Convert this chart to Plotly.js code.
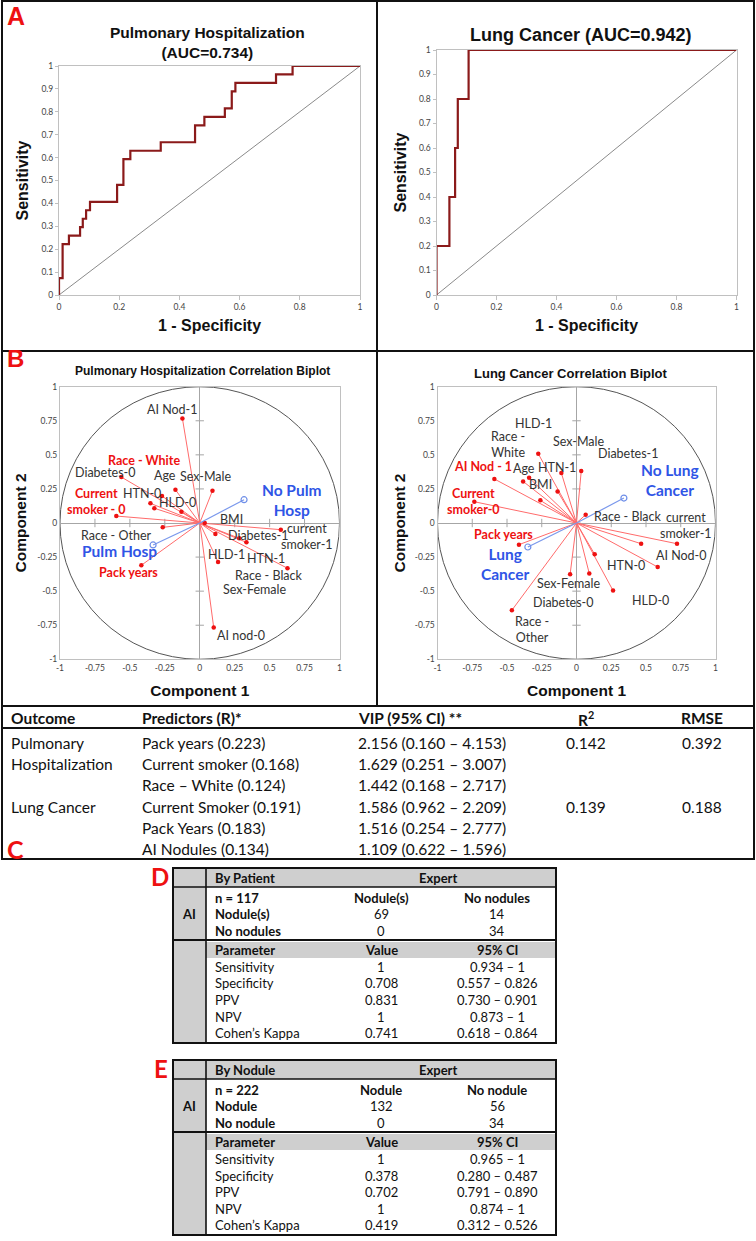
<!DOCTYPE html>
<html><head><meta charset="utf-8">
<script src="https://cdn.plot.ly/plotly-3.0.1.min.js"></script>
<style>html,body{margin:0;padding:0;background:#fff;}#chart{width:756px;height:1241px;}</style>
</head><body><div id="chart"></div>
<script>
// ---------------- DATA ----------------
// Panel A: ROC step curves (1 - specificity, sensitivity)
const pulmRocFpr = [0, 0, 0.012, 0.033, 0.070, 0.079, 0.090, 0.103, 0.193, 0.214, 0.237, 0.338, 0.452, 0.483, 0.551, 0.574, 0.586, 0.721, 0.776, 1];
const pulmRocTpr = [0, 0.074, 0.222, 0.259, 0.296, 0.333, 0.370, 0.407, 0.481, 0.593, 0.630, 0.667, 0.741, 0.778, 0.815, 0.889, 0.926, 0.963, 1, 1];
const lungRocFpr = [0, 0, 0.043, 0.062, 0.071, 0.107, 1];
const lungRocTpr = [0, 0.2, 0.4, 0.6, 0.8, 1, 1];
const chanceLine = [0, 1];
const rocXTicks = [0, 0.2, 0.4, 0.6, 0.8, 1];
const rocYTicks = [0, 0.1, 0.2, 0.3, 0.4, 0.5, 0.6, 0.7, 0.8, 0.9, 1];

// Panel B: biplot loadings (component 1, component 2)
const pulmVarNames = ['AI Nod-1','Diabetes-0','Age','Sex-Male','HTN-0','Race - White','Current smoker-0 (b)','HLD-0','Current smoker-0','Race - Other','Pack years','BMI','current smoker-1','Sex-Female','Diabetes-1','HTN-1','HLD-1','Race - Black','AI nod-0'];
const pulmVarC1 = [-0.124, -0.561, -0.174, 0.091, -0.270, -0.353, -0.325, -0.131, -0.597, -0.265, -0.418, 0.036, 0.580, 0.112, 0.282, 0.334, 0.131, 0.628, 0.100];
const pulmVarC2 = [0.767, 0.337, 0.244, 0.237, 0.198, 0.144, 0.108, 0.083, 0.051, -0.032, -0.310, 0.000, -0.049, -0.081, -0.112, -0.142, -0.286, -0.332, -0.767];
const pulmOutNames = ['No Pulm Hosp', 'Pulm Hosp'];
const pulmOutC1 = [0.317, -0.334];
const pulmOutC2 = [0.171, -0.161];

const lungVarNames = ['HLD-1','Diabetes-1','HTN-1','AI Nod - 1','Age','Race - White','BMI','Sex-Male','Current smoker-0','Race - Black','current smoker-1','HTN-1 (b)','AI Nod-0','Pack years','HTN-0','Sex-Female','Diabetes-0','HLD-0','Race - Other'];
const lungVarC1 = [-0.275, 0.034, -0.109, -0.591, -0.341, -0.384, -0.136, -0.260, -0.735, 0.066, 0.723, 0.465, 0.584, -0.414, 0.131, -0.046, 0.092, 0.263, -0.465];
const lungVarC2 = [0.508, 0.381, 0.367, 0.323, 0.332, 0.305, 0.232, 0.166, 0.156, 0.061, -0.152, -0.152, -0.323, -0.159, -0.230, -0.376, -0.371, -0.496, -0.640];
const lungOutNames = ['No Lung Cancer', 'Lung Cancer'];
const lungOutC1 = [0.341, -0.350];
const lungOutC2 = [0.183, -0.176];

const biTicks = [-1, -0.75, -0.5, -0.25, 0, 0.25, 0.5, 0.75, 1];
const biTickText = ['-1', '-0.75', '-0.5', '-0.25', '0', '0.25', '0.5', '0.75', '1'];

// Panel C table
const cHeaders = ['Outcome', 'Predictors (R)*', 'VIP (95% CI) **', 'R<sup>2</sup>', 'RMSE'];
const cOutcome = ['Pulmonary', 'Hospitalization', '', 'Lung Cancer', '', ''];
const cPredictors = ['Pack years (0.223)', 'Current smoker (0.168)', 'Race – White (0.124)', 'Current Smoker (0.191)', 'Pack Years (0.183)', 'AI Nodules (0.134)'];
const cVip = ['2.156 (0.160 – 4.153)', '1.629 (0.251 – 3.007)', '1.442 (0.168 – 2.717)', '1.586 (0.962 – 2.209)', '1.516 (0.254 – 2.777)', '1.109 (0.622 – 1.596)'];
const cR2 = ['0.142', '', '', '0.139', '', ''];
const cRmse = ['0.392', '', '', '0.188', '', ''];

// Panel D table (by patient)
const dTitle = 'By Patient', dN = 'n = 117';
const dCols = ['Nodule(s)', 'No nodules'];
const dRows = ['Nodule(s)', 'No nodules'];
const dCounts = [[69, 14], [0, 34]];
const paramNames = ['Sensitivity', 'Specificity', 'PPV', 'NPV', 'Cohen’s Kappa'];
const dValues = ['1', '0.708', '0.831', '1', '0.741'];
const dCI = ['0.934 – 1', '0.557 – 0.826', '0.730 – 0.901', '0.873 – 1', '0.618 – 0.864'];

// Panel E table (by nodule)
const eTitle = 'By Nodule', eN = 'n = 222';
const eCols = ['Nodule', 'No nodule'];
const eRows = ['Nodule', 'No nodule'];
const eCounts = [[132, 56], [0, 34]];
const eValues = ['1', '0.378', '0.702', '1', '0.419'];
const eCI = ['0.965 – 1', '0.280 – 0.487', '0.791 – 0.890', '0.874 – 1', '0.312 – 0.526'];

// ---------------- LAYOUT HELPERS ----------------
const W = 756, H = 1241;
const px = x => x / W, py = y => 1 - y / H;
const ARIAL = 'Liberation Sans, Arial, sans-serif';
const CAL = 'Lato, Carlito, Calibri, sans-serif';
const RED = '#ee1111', BLUE = '#2f55e6', DARK = '#333333';
const BOX = '#c0c0c0';

const traces = [];
const annotations = [];
const shapes = [];

// ROC traces
function rocTraces(fpr, tpr, xa, ya) {
  traces.push({x: chanceLine, y: chanceLine, xaxis: xa, yaxis: ya, mode: 'lines', line: {color: '#8a8a8a', width: 1}, hoverinfo: 'skip'});
  traces.push({x: fpr, y: tpr, xaxis: xa, yaxis: ya, mode: 'lines', line: {color: '#8b1a1a', width: 2.2, shape: 'hv'}});
}
rocTraces(pulmRocFpr, pulmRocTpr, 'x', 'y');
rocTraces(lungRocFpr, lungRocTpr, 'x2', 'y2');

// Biplot traces
function biplot(vx, vy, ox, oy, xa, ya) {
  traces.push({x: biTicks.map(() => 0), y: biTicks, xaxis: xa, yaxis: ya, mode: 'markers',
    marker: {symbol: 'line-ew', size: 6, line: {color: '#a6a6a6', width: 1}}, hoverinfo: 'skip'});
  traces.push({x: biTicks, y: biTicks.map(() => 0), xaxis: xa, yaxis: ya, mode: 'markers',
    marker: {symbol: 'line-ns', size: 6, line: {color: '#a6a6a6', width: 1}}, hoverinfo: 'skip'});
  const lx = [], ly = [];
  vx.forEach((v, i) => { lx.push(0, v, null); ly.push(0, vy[i], null); });
  traces.push({x: lx, y: ly, xaxis: xa, yaxis: ya, mode: 'lines', line: {color: '#ff6b6b', width: 1}, hoverinfo: 'skip'});
  traces.push({x: vx, y: vy, xaxis: xa, yaxis: ya, mode: 'markers', marker: {color: RED, size: 4.5}});
  const bx = [], by = [];
  ox.forEach((v, i) => { bx.push(0, v, null); by.push(0, oy[i], null); });
  traces.push({x: bx, y: by, xaxis: xa, yaxis: ya, mode: 'lines', line: {color: '#7a98ec', width: 1.2}, hoverinfo: 'skip'});
  traces.push({x: ox, y: oy, xaxis: xa, yaxis: ya, mode: 'markers', marker: {color: '#6f8fe8', size: 6, symbol: 'circle-open', line: {width: 1.2}}});
  shapes.push({type: 'circle', xref: xa, yref: ya, x0: -1, x1: 1, y0: -1, y1: 1, line: {color: '#555555', width: 1}, layer: 'below'});
}
biplot(pulmVarC1, pulmVarC2, pulmOutC1, pulmOutC2, 'x3', 'y3');
biplot(lungVarC1, lungVarC2, lungOutC1, lungOutC2, 'x4', 'y4');

// Biplot labels (positions in component space)
const pulmLabels = [
  ['AI Nod-1', -0.198, 0.836, 'k'], ['Race - White', -0.398, 0.457, 'r'], ['Diabetes-0', -0.673, 0.371, 'k'],
  ['Age', -0.251, 0.352, 'k'], ['Sex-Male', 0.043, 0.340, 'k'], ['Current<br>smoker - 0', -0.740, 0.158, 'r'],
  ['HTN-0', -0.413, 0.217, 'k'], ['HLD-0', -0.162, 0.152, 'k'], ['No Pulm<br>Hosp', 0.663, 0.170, 'b'],
  ['BMI', 0.227, 0.029, 'k'], ['current<br>smoker-1', 0.764, -0.100, 'k'], ['Race - Other', -0.597, -0.093, 'k'],
  ['Diabetes-1', 0.422, -0.093, 'k'], ['Pulm Hosp', -0.573, -0.208, 'b'], ['HLD-1', 0.191, -0.232, 'k'],
  ['HTN-1', 0.477, -0.264, 'k'], ['Pack years', -0.508, -0.364, 'r'], ['Race - Black', 0.496, -0.386, 'k'],
  ['Sex-Female', 0.389, -0.489, 'k'], ['AI nod-0', 0.298, -0.826, 'k']
];
const lungLabels = [
  ['HLD-1', -0.311, 0.733, 'k'], ['Race -<br>White', -0.494, 0.575, 'k'], ['Sex-Male', 0.015, 0.599, 'k'],
  ['Diabetes-1', 0.372, 0.508, 'k'], ['AI Nod - 1', -0.674, 0.414, 'r'], ['Age', -0.380, 0.402, 'k'],
  ['HTN-1', -0.141, 0.408, 'k'], ['BMI', -0.260, 0.279, 'k'], ['No Lung<br>Cancer', 0.674, 0.315, 'b'],
  ['Current<br>smoker-0', -0.742, 0.160, 'r'], ['Race - Black', 0.372, 0.051, 'k'], ['current<br>smoker-1', 0.791, -0.017, 'k'],
  ['Pack years', -0.523, -0.086, 'r'], ['Lung<br>Cancer', -0.517, -0.302, 'b'], ['AI Nod-0', 0.754, -0.242, 'k'],
  ['HTN-0', 0.353, -0.315, 'k'], ['Sex-Female', -0.056, -0.445, 'k'], ['HLD-0', 0.535, -0.567, 'k'],
  ['Diabetes-0', -0.097, -0.584, 'k'], ['Race -<br>Other', -0.321, -0.784, 'k']
];
function addLabels(list, xref, yref) {
  list.forEach(([t, x, y, s]) => {
    let font;
    if (s === 'r') font = {family: CAL, size: 12.5, color: RED, weight: 'bold'};
    else if (s === 'b') font = {family: CAL, size: 15.5, color: BLUE, weight: 'bold'};
    else font = {family: CAL, size: 12.5, color: DARK};
    annotations.push({text: t, x: x, y: y, xref: xref, yref: yref, showarrow: false, xanchor: 'center', yanchor: 'middle', font: font});
  });
}
addLabels(pulmLabels, 'x3', 'y3');
addLabels(lungLabels, 'x4', 'y4');

// Panel titles
function pText(t, x, y, font, xanchor) {
  annotations.push({text: t, x: px(x), y: py(y), xref: 'paper', yref: 'paper', showarrow: false,
    xanchor: xanchor || 'center', yanchor: 'middle', font: font});
}
pText('<b>Pulmonary Hospitalization<br>(AUC=0.734)</b>', 207, 42, {family: ARIAL, size: 15.5, color: '#111'});
pText('<b>Lung Cancer (AUC=0.942)</b>', 581, 35, {family: ARIAL, size: 18, color: '#111'});
pText('<b>Pulmonary Hospitalization Correlation Biplot</b>', 202, 371, {family: ARIAL, size: 12, color: '#111'});
pText('<b>Lung Cancer Correlation Biplot</b>', 571, 373, {family: ARIAL, size: 13, color: '#111'});

// Panel letters
pText('<b>A</b>', 16, 16, {family: ARIAL, size: 25, color: RED});
pText('<b>B</b>', 15, 358, {family: ARIAL, size: 24, color: RED});
pText('<b>C</b>', 15, 849, {family: CAL, size: 25, color: RED});
pText('<b>D</b>', 160, 876, {family: CAL, size: 24, color: RED});
pText('<b>E</b>', 161, 1068, {family: CAL, size: 24, color: RED});

// Frame lines
function line(x0, y0, x1, y1, w, c) {
  shapes.push({type: 'line', xref: 'paper', yref: 'paper', x0: px(x0), y0: py(y0), x1: px(x1), y1: py(y1), line: {color: c || '#111', width: w || 1}});
}
function rect(x0, y0, x1, y1, fill) {
  shapes.push({type: 'rect', xref: 'paper', yref: 'paper', x0: px(x0), y0: py(y0), x1: px(x1), y1: py(y1),
    fillcolor: fill, line: {width: 0}, layer: 'below'});
}
shapes.push({type: 'rect', xref: 'paper', yref: 'paper', x0: px(2), y0: py(1), x1: px(754), y1: py(859), line: {color: '#111', width: 2}});
line(377, 1, 377, 706, 2);
line(2, 351, 754, 351, 2);
line(2, 706, 754, 706, 2);
line(2, 728, 754, 728, 1.8);

// Panel C table text
const cX = [9, 140, 356, 586, 702];
const cAnch = ['left', 'left', 'left', 'center', 'center'];
const cRowY = [743, 764, 785, 807, 828, 849];
const cFont = {family: CAL, size: 15.5, color: '#111'};
cHeaders.forEach((h, i) => pText('<b>' + h + '</b>', cX[i], 718, cFont, cAnch[i]));
const cCols = [cOutcome, cPredictors, cVip, cR2, cRmse];
cCols.forEach((col, i) => col.forEach((v, r) => { if (v) pText(v, cX[i], cRowY[r], cFont, cAnch[i]); }));

// Panels D and E tables
function drawTable(top, title, nTxt, cols, rows, counts, values, ci) {
  const L = 173, R = 556, V = 206, c1 = 381, c2 = 497, tx = 213;
  const f = {family: CAL, size: 13, color: '#111'};
  rect(L, top, V, top + 175, '#cfcfcf');
  rect(V, top, R, top + 19, '#cfcfcf');
  rect(V, top + 74, R, top + 90, '#cfcfcf');
  shapes.push({type: 'rect', xref: 'paper', yref: 'paper', x0: px(L), y0: py(top), x1: px(R), y1: py(top + 175), line: {color: '#111', width: 2}});
  line(V, top, V, top + 175, 1.6);
  line(L, top + 19, R, top + 19, 1.6);
  line(L, top + 72, R, top + 72, 2);
  pText('<b>' + title + '</b>', tx, top + 10, f, 'left');
  pText('<b>Expert</b>', 438, top + 10, f);
  pText('<b>' + nTxt + '</b>', tx, top + 30, f, 'left');
  pText('<b>' + cols[0] + '</b>', c1, top + 30, f);
  pText('<b>' + cols[1] + '</b>', c2, top + 30, f);
  pText('<b>AI</b>', (L + V) / 2, top + 46, f);
  rows.forEach((r, i) => {
    const y = top + 46 + i * 17;
    pText('<b>' + r + '</b>', tx, y, f, 'left');
    pText(String(counts[i][0]), c1, y, f);
    pText(String(counts[i][1]), c2, y, f);
  });
  pText('<b>Parameter</b>', tx, top + 82, f, 'left');
  pText('<b>Value</b>', c1, top + 82, f);
  pText('<b>95% CI</b>', c2, top + 82, f);
  paramNames.forEach((p, i) => {
    const y = top + 99 + i * 16.5;
    pText(p, tx, y, f, 'left');
    pText(values[i], c1, y, f);
    pText(ci[i], c2, y, f);
  });
}
drawTable(868, dTitle, dN, dCols, dRows, dCounts, dValues, dCI);
drawTable(1060, eTitle, eN, eCols, eRows, eCounts, eValues, eCI);

// ---------------- AXES ----------------
const tickFont = {family: CAL, size: 8.5, color: '#444'};
function rocAxisX(domain, anchor) {
  return {domain: domain, anchor: anchor, range: [0, 1], tickvals: rocXTicks, ticktext: rocXTicks.map(String),
    showline: true, mirror: true, linecolor: BOX, linewidth: 1, ticks: 'outside', ticklen: 4, tickcolor: BOX,
    showgrid: false, zeroline: false, tickfont: tickFont, fixedrange: true,
    title: {text: '<b>1 - Specificity</b>', font: {family: ARIAL, size: 16, color: '#111'}, standoff: 8}};
}
function rocAxisY(domain, anchor) {
  return {domain: domain, anchor: anchor, range: [0, 1], tickvals: rocYTicks, ticktext: rocYTicks.map(String),
    showline: true, mirror: true, linecolor: BOX, linewidth: 1, ticks: 'outside', ticklen: 3, tickcolor: BOX,
    showgrid: false, zeroline: false, tickfont: tickFont, fixedrange: true,
    title: {text: '<b>Sensitivity</b>', font: {family: ARIAL, size: 16, color: '#111'}, standoff: 8}};
}
function biAxis(domain, anchor, ttl, standoff) {
  return {domain: domain, anchor: anchor, range: [-1, 1], tickvals: biTicks, ticktext: biTickText,
    showline: true, mirror: true, linecolor: BOX, linewidth: 1, ticks: '', showgrid: false,
    zeroline: true, zerolinecolor: '#a6a6a6', zerolinewidth: 1, tickfont: tickFont, fixedrange: true,
    title: {text: '<b>' + ttl + '</b>', font: {family: ARIAL, size: 15.5, color: '#111'}, standoff: standoff}};
}

const layout = {
  width: W, height: H, margin: {l: 0, r: 0, t: 0, b: 0}, paper_bgcolor: '#ffffff', plot_bgcolor: 'rgba(0,0,0,0)',
  showlegend: false, hovermode: false,
  xaxis: rocAxisX([px(59), px(360)], 'y'),
  yaxis: rocAxisY([py(295), py(66)], 'x'),
  xaxis2: rocAxisX([px(436.5), px(736.5)], 'y2'),
  yaxis2: rocAxisY([py(295), py(50)], 'x2'),
  xaxis3: biAxis([px(60), px(339.5)], 'y3', 'Component 1', 13),
  yaxis3: biAxis([py(659.3), py(386.7)], 'x3', 'Component 2', 6),
  xaxis4: biAxis([px(437.5), px(715.5)], 'y4', 'Component 1', 13),
  yaxis4: biAxis([py(659.3), py(386.7)], 'x4', 'Component 2', 5),
  annotations: annotations,
  shapes: shapes
};
Plotly.newPlot('chart', traces, layout, {displayModeBar: false, staticPlot: true});
</script>
</body></html>
